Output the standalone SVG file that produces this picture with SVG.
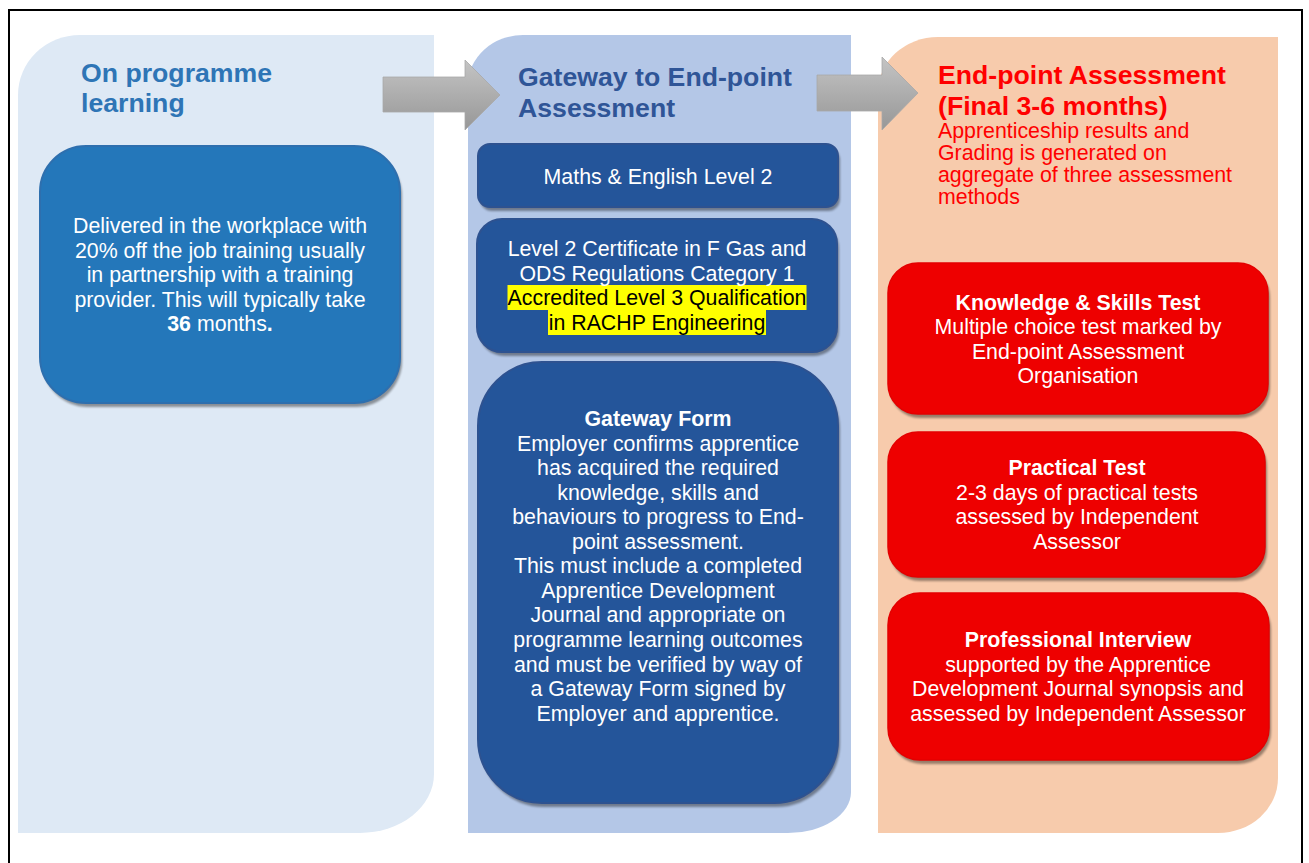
<svg xmlns="http://www.w3.org/2000/svg" width="1309" height="863" viewBox="0 0 1309 863">
<defs>
<linearGradient id="arrowGrad" x1="0" y1="0" x2="0" y2="1">
<stop offset="0" stop-color="#C4C4C4"/>
<stop offset="1" stop-color="#979797"/>
</linearGradient>
<filter id="sh" x="-10%" y="-10%" width="120%" height="130%">
<feGaussianBlur stdDeviation="1.2"/>
</filter>
<style>
text{font-family:"Liberation Sans",Arial,Helvetica,sans-serif;}
.title{font-size:26.67px;font-weight:bold;}
.body{font-size:21.33px;fill:#FFFFFF;text-anchor:middle;}
.b{font-weight:bold;}
.shadow{fill:#000000;opacity:0.38;filter:url(#sh);}
.blue1{fill:#2477BA;stroke:#2E6FAE;stroke-width:2;}
.blue2{fill:#24559A;stroke:#2E5290;stroke-width:2;}
.red{fill:#EE0000;stroke:#E40000;stroke-width:1.5;}
.arrow{fill:url(#arrowGrad);stroke:#A8A8A8;stroke-width:0.8;}
</style>
</defs>
<rect x="0" y="0" width="1309" height="863" fill="#FFFFFF"/>
<rect x="9" y="10" width="1293" height="880" fill="none" stroke="#000000" stroke-width="2"/>

<g id="panel-onprogramme">
<path d="M18,95 A62,60 0 0 1 80,35 L434,35 L434,774 A74,59 0 0 1 360,833 L18,833 Z" fill="#DEE9F5"/>
<text class="title" x="81" y="82" fill="#2E75B6">On programme</text>
<text class="title" x="81" y="112" fill="#2E75B6">learning</text>
</g>

<g id="panel-gateway">
<path d="M468,85 A55,50 0 0 1 523,35 L851,35 L851,792 A63,41 0 0 1 788,833 L468,833 Z" fill="#B4C7E7"/>
<text class="title" x="518" y="86" fill="#2F5597">Gateway to End-point</text>
<text class="title" x="518" y="117" fill="#2F5597">Assessment</text>
</g>

<g id="panel-epa">
<path d="M878,92 A60,55 0 0 1 938,37 L1278,37 L1278,778 A60,55 0 0 1 1218,833 L878,833 Z" fill="#F7CBAC"/>
<text class="title" x="938" y="84" fill="#FF0000">End-point Assessment</text>
<text class="title" x="938" y="115" fill="#FF0000">(Final 3-6 months)</text>
<text x="938" y="138" font-size="21.33" fill="#FF0000">Apprenticeship results and</text>
<text x="938" y="160" font-size="21.33" fill="#FF0000">Grading is generated on</text>
<text x="938" y="182" font-size="21.33" fill="#FF0000">aggregate of three assessment</text>
<text x="938" y="204" font-size="21.33" fill="#FF0000">methods</text>
</g>

<g id="connectors">
<path class="arrow" d="M383,77 L465,77 L465,60 L500,95 L465,130 L465,112 L383,112 Z"/>
<path class="arrow" d="M817,75 L882,75 L882,57 L918,93 L882,130 L882,111 L817,111 Z"/>
</g>

<g id="node-delivered">
<rect class="shadow" x="42" y="150" width="360" height="257" rx="46"/>
<rect class="blue1" x="40" y="146" width="360" height="257" rx="46"/>
<text class="body" x="220" y="233">Delivered in the workplace with</text>
<text class="body" x="220" y="258">20% off the job training usually</text>
<text class="body" x="220" y="282">in partnership with a training</text>
<text class="body" x="220" y="307">provider. This will typically take</text>
<text class="body" x="220" y="331"><tspan class="b">36</tspan> months<tspan class="b">.</tspan></text>
</g>

<g id="node-maths">
<rect class="shadow" x="480" y="148" width="360" height="63" rx="12"/>
<rect class="blue2" x="478" y="144" width="360" height="63" rx="12"/>
<text class="body" x="658" y="184">Maths &amp; English Level 2</text>
</g>

<g id="node-certificate">
<rect class="shadow" x="479" y="223" width="360" height="133" rx="25"/>
<rect class="blue2" x="477" y="219" width="360" height="133" rx="25"/>
<rect x="507.5" y="285" width="299" height="25" fill="#FFFF00"/>
<rect x="548" y="310" width="218" height="25" fill="#FFFF00"/>
<text class="body" x="657" y="256">Level 2 Certificate in F Gas and</text>
<text class="body" x="657" y="281">ODS Regulations Category 1</text>
<text class="body" x="657" y="305" fill="#000000" style="fill:#000000">Accredited Level 3 Qualification</text>
<text class="body" x="657" y="330" style="fill:#000000">in RACHP Engineering</text>
</g>

<g id="node-gatewayform">
<rect class="shadow" x="480" y="366" width="360" height="441" rx="64"/>
<rect class="blue2" x="478" y="362" width="360" height="441" rx="64"/>
<text class="body b" x="658" y="426">Gateway Form</text>
<text class="body" x="658" y="451">Employer confirms apprentice</text>
<text class="body" x="658" y="475">has acquired the required</text>
<text class="body" x="658" y="500">knowledge, skills and</text>
<text class="body" x="658" y="524">behaviours to progress to End-</text>
<text class="body" x="658" y="549">point assessment.</text>
<text class="body" x="658" y="573">This must include a completed</text>
<text class="body" x="658" y="598">Apprentice Development</text>
<text class="body" x="658" y="622">Journal and appropriate on</text>
<text class="body" x="658" y="647">programme learning outcomes</text>
<text class="body" x="658" y="672">and must be verified by way of</text>
<text class="body" x="658" y="696">a Gateway Form signed by</text>
<text class="body" x="658" y="721">Employer and apprentice.</text>
</g>

<g id="node-knowledge">
<rect class="shadow" x="890" y="267" width="380" height="151" rx="30"/>
<rect class="red" x="888" y="263" width="380" height="151" rx="30"/>
<text class="body b" x="1078" y="310">Knowledge &amp; Skills Test</text>
<text class="body" x="1078" y="334">Multiple choice test marked by</text>
<text class="body" x="1078" y="359">End-point Assessment</text>
<text class="body" x="1078" y="383">Organisation</text>
</g>

<g id="node-practical">
<rect class="shadow" x="890" y="436" width="377" height="145" rx="30"/>
<rect class="red" x="888" y="432" width="377" height="145" rx="30"/>
<text class="body b" x="1077" y="475">Practical Test</text>
<text class="body" x="1077" y="500">2-3 days of practical tests</text>
<text class="body" x="1077" y="524">assessed by Independent</text>
<text class="body" x="1077" y="549">Assessor</text>
</g>

<g id="node-interview">
<rect class="shadow" x="890" y="597" width="381" height="167" rx="32"/>
<rect class="red" x="888" y="593" width="381" height="167" rx="32"/>
<text class="body b" x="1078" y="647">Professional Interview</text>
<text class="body" x="1078" y="672">supported by the Apprentice</text>
<text class="body" x="1078" y="696">Development Journal synopsis and</text>
<text class="body" x="1078" y="721">assessed by Independent Assessor</text>
</g>
</svg>
